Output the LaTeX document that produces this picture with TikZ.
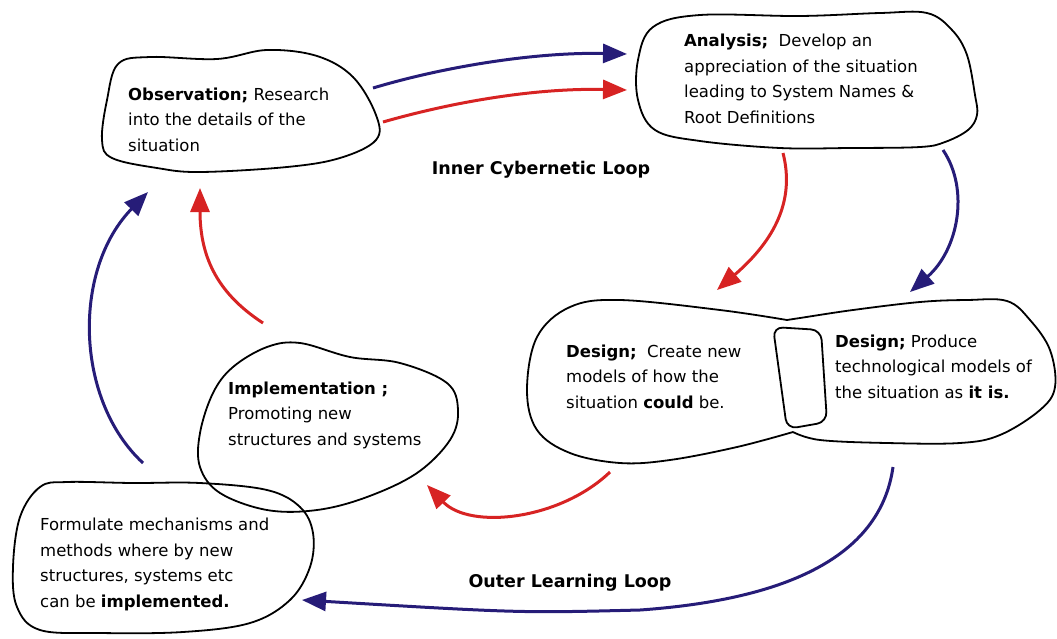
\documentclass[tikz,border=0pt]{standalone}
\usepackage{fontspec}
\setmainfont{DejaVu Sans}
\usetikzlibrary{arrows.meta}
\definecolor{loopblue}{RGB}{38,28,120}
\definecolor{loopred}{RGB}{215,35,35}
\begin{document}
\begin{tikzpicture}[x=1pt,y=-1pt,
  blob/.style={draw=black,line width=1.8pt,line join=round},
  txt/.style={inner sep=0pt,align=left,anchor=base west,font=\fontsize{16.5}{25.5}\selectfont},
  looplabel/.style={inner sep=0pt,font=\fontsize{17.5}{20}\selectfont\bfseries},
  bluearrow/.style={draw=loopblue,line width=3pt,-{Triangle[length=24pt,width=19pt]}},
  redarrow/.style={draw=loopred,line width=3pt,-{Triangle[length=24pt,width=19pt]}}]
\useasboundingbox (0,0) rectangle (1057,638);

% --- outlines ---
% observation
\draw[blob] plot[smooth cycle,tension=0.6] coordinates{(118,64) (150,57) (217,59) (267,50) (317,56) (353,77) (376,115) (376,140) (340,158) (287,167) (200,172) (157,168) (112,158) (102,140) (107,100)};
% analysis
\draw[blob] plot[smooth cycle,tension=0.6] coordinates{(653,27) (700,15) (800,16) (880,13) (927,13) (952,30) (967,55) (975,95) (977,115) (968,130) (945,142) (920,147) (850,148) (780,148) (700,141) (655,130) (638,100) (638,60)};
% design, left lobe
\draw[blob] plot[smooth,tension=0.6] coordinates{(787,320) (720,310) (620,300) (570,307) (537,337) (527,390) (537,430) (570,453) (620,463) (670,460) (737,447) (793,432)};
% design, right lobe
\draw[blob] plot[smooth,tension=0.6] coordinates{(793,432) (820,440) (887,443) (960,443) (1000,435) (1040,410) (1055,387) (1050,350) (1030,320) (1007,301) (967,300) (920,302) (853,310) (800,318) (787,320)};
% design, overlap
\draw[blob,rounded corners=10pt] (773,327) -- (821,330) -- (827,422) -- (787,429) -- cycle;
% implementation
\draw[blob] plot[smooth cycle,tension=0.6] coordinates{(233,367) (267,347) (300,343) (350,357) (400,363) (447,383) (458,410) (450,440) (417,473) (367,497) (317,510) (267,510) (220,493) (200,467) (200,433) (213,393)};
% mechanisms
\draw[blob] plot[smooth cycle,tension=0.6] coordinates{(40,487) (67,482) (133,483) (200,483) (267,490) (300,507) (313,533) (310,567) (290,600) (250,623) (183,632) (100,633) (40,630) (17,607) (13,567) (20,517)};

% --- texts (placed by the baseline of their last line) ---
\node[txt] (obs) at (128,151) {\textbf{Observation;} Research\\into the details of the\\situation};
\node[txt] (ana) at (684,123) {\textbf{Analysis;}\ \ Develop an\\appreciation of the situation\\leading to System Names \&\\Root Definitions};
\node[txt] (dnew) at (566,408) {\textbf{Design;}\ \ Create new\\models of how the\\situation \textbf{could} be.};
\node[txt] (dnow) at (835,398) {\textbf{Design;} Produce\\technological models of\\the situation as \textbf{it is.}};
\node[txt] (imp) at (228,445) {\textbf{Implementation ;}\\Promoting new\\structures and systems};
\node[txt] (mech) at (40,607) {Formulate mechanisms and\\methods where by new\\structures, systems etc\\can be \textbf{implemented.}};
\node[looplabel] (inner) at (541,170) {Inner Cybernetic Loop};
\node[looplabel] (outer) at (570,583) {Outer Learning Loop};

% --- arrow ends ---
\coordinate (obsB) at (373,88);  \coordinate (anaB) at (627,54);
\coordinate (obsR) at (383,122); \coordinate (anaR) at (627,90);
\coordinate (anaRo) at (783,153); \coordinate (dnewR) at (717,290);
\coordinate (anaBo) at (943,150); \coordinate (dnowB) at (910,292);
\coordinate (dnewRo) at (610,472); \coordinate (impR) at (427,485);
\coordinate (dnowBo) at (893,467); \coordinate (mechB) at (302,600);
\coordinate (impRo) at (263,323); \coordinate (obsRi) at (200,188);
\coordinate (mechBo) at (143,463); \coordinate (obsBi) at (148,192);

% --- inner cybernetic loop (red) ---
\draw[redarrow] (obsR) .. controls (460,100) and (540,88) .. (anaR);
\draw[redarrow] (anaRo) .. controls (795,200) and (775,240) .. (dnewR);
\draw[redarrow] (dnewRo) .. controls (560,520) and (470,530) .. (impR);
\draw[redarrow] (impRo) .. controls (220,295) and (200,260) .. (obsRi);

% --- outer learning loop (blue) ---
\draw[bluearrow] (obsB) .. controls (450,65) and (540,52) .. (anaB);
\draw[bluearrow] (anaBo) .. controls (970,190) and (958,250) .. (dnowB);
\draw[bluearrow] (dnowBo) .. controls (880,560) and (780,600) .. (640,610) .. controls (520,613) .. (mechB);
\draw[bluearrow] (mechBo) .. controls (75,400) and (72,270) .. (obsBi);
\end{tikzpicture}
\end{document}
